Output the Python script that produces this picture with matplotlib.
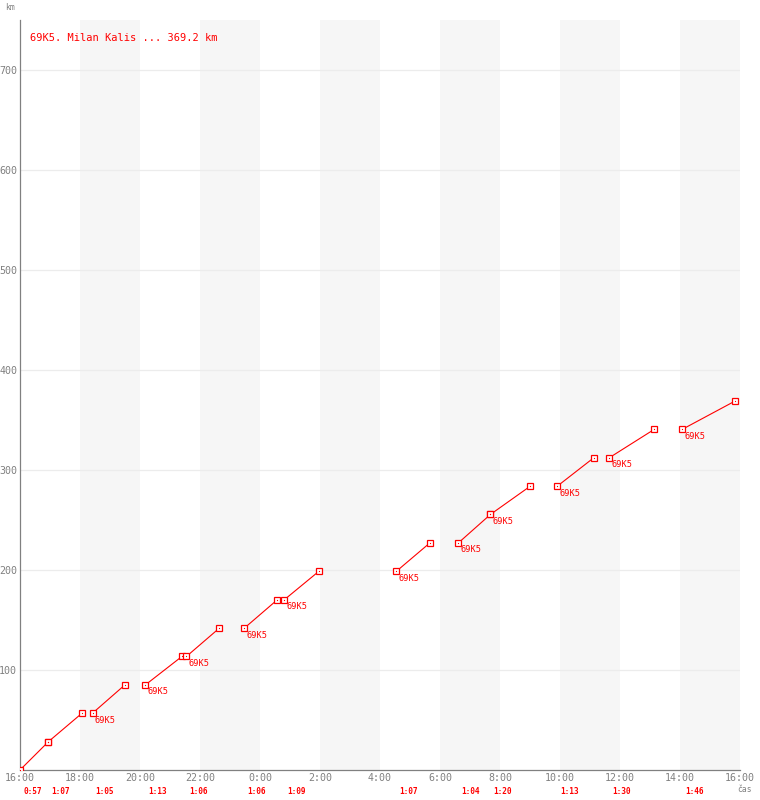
import matplotlib
matplotlib.use("Agg")
import matplotlib.pyplot as plt
from matplotlib.transforms import blended_transform_factory

# ---- data ----
title = "69K5. Milan Kalis ... 369.2 km"
runner = "69K5"
leg_start = ["16:00", "16:57", "18:25", "20:11", "21:33", "23:29", "0:49",
             "4:33", "6:37", "7:41", "9:55", "11:39", "14:05"]
leg_duration = ["0:57", "1:07", "1:05", "1:13", "1:06", "1:06", "1:09",
                "1:07", "1:04", "1:20", "1:13", "1:30", "1:46"]
km_start = [0.0, 28.4, 56.8, 85.2, 113.6, 142.0, 170.4,
            198.8, 227.2, 255.6, 284.0, 312.4, 340.8]
km_end = [28.4, 56.8, 85.2, 113.6, 142.0, 170.4, 198.8,
          227.2, 255.6, 284.0, 312.4, 340.8, 369.2]
show_runner_label = [False, False, True, True, True, True, True,
                     True, True, True, True, True, True]
x_tick_labels = ["16:00", "18:00", "20:00", "22:00", "0:00", "2:00", "4:00",
                 "6:00", "8:00", "10:00", "12:00", "14:00", "16:00"]
y_ticks = [100, 200, 300, 400, 500, 600, 700]


def hm(s):
    h, m = s.split(":")
    return int(h) + int(m) / 60.0


def clock_to_x(s):
    return (hm(s) - 16) % 24


RED = "#ff0000"
GRAY = "#808080"
FONT = "DejaVu Sans Mono"

fig = plt.figure(figsize=(7.6, 8.0), dpi=100)
W, H = 760, 800
ax = fig.add_axes([20 / W, 30 / H, 720 / W, 750 / H])
ax.set_xlim(0, 24)
ax.set_ylim(0, 750)

# background bands
for i in range(len(x_tick_labels) - 1):
    if i % 2 == 1:
        ax.axvspan(2 * i, 2 * i + 2, color="#f6f6f6", lw=0, zorder=0)

for y in y_ticks:
    ax.axhline(y, color="#ececec", lw=0.9, zorder=1)

# legs
prev_end = None
seg_x, seg_y = [], []
segments = []
for s, d, k0, k1 in zip(leg_start, leg_duration, km_start, km_end):
    x0 = clock_to_x(s)
    x1 = x0 + hm(d)
    if prev_end is not None and abs(prev_end - x0) < 1e-6 and seg_x and False:
        pass
    segments.append(([x0, x1], [k0, k1]))
    prev_end = x1

for xs, ys in segments:
    ax.plot(xs, ys, color=RED, lw=0.8, zorder=3)
    ax.plot(xs, ys, ls="none", marker="s", ms=3.8, mfc="white", mec=RED,
            mew=0.9, zorder=4)
    ax.plot(xs, ys, ls="none", marker="s", ms=0.8, mfc=RED, mec=RED,
            mew=0, zorder=5)

bt = blended_transform_factory(ax.transData, ax.transAxes)
for (xs, ys), d, lab in zip(segments, leg_duration, show_runner_label):
    ax.text(xs[0] + 0.1, -22 / 750, d, transform=bt, color=RED, fontsize=5.6,
            fontweight="bold", family=FONT, ha="left", va="center",
            clip_on=False)
    if lab:
        ax.annotate(runner, (xs[0], ys[0]), xytext=(2, -7),
                    textcoords="offset pixels", color=RED, fontsize=6.2,
                    family=FONT, ha="left", va="center")

ax.text(0.33, 732, title, color=RED, fontsize=7.5, family=FONT,
        ha="left", va="center")

# axes styling
for sp in ["top", "right"]:
    ax.spines[sp].set_visible(False)
for sp in ["left", "bottom"]:
    ax.spines[sp].set_color(GRAY)
    ax.spines[sp].set_linewidth(0.9)
ax.set_xticks(range(0, 25, 2))
ax.set_xticklabels(x_tick_labels, family=FONT, fontsize=7.2, color=GRAY)
ax.set_yticks(y_ticks)
ax.set_yticklabels([str(v) for v in y_ticks], family=FONT, fontsize=7.2,
                   color=GRAY)
ax.tick_params(length=0, pad=2)

fig.text(5 / W, 1 - 7 / H, "km", color=GRAY, fontsize=5.8, family=FONT,
         ha="left", va="center")
fig.text(737 / W, 1 - 789 / H, "čas", color=GRAY, fontsize=5.8, family=FONT,
         ha="left", va="center")

fig.savefig("out.png", dpi=100)
